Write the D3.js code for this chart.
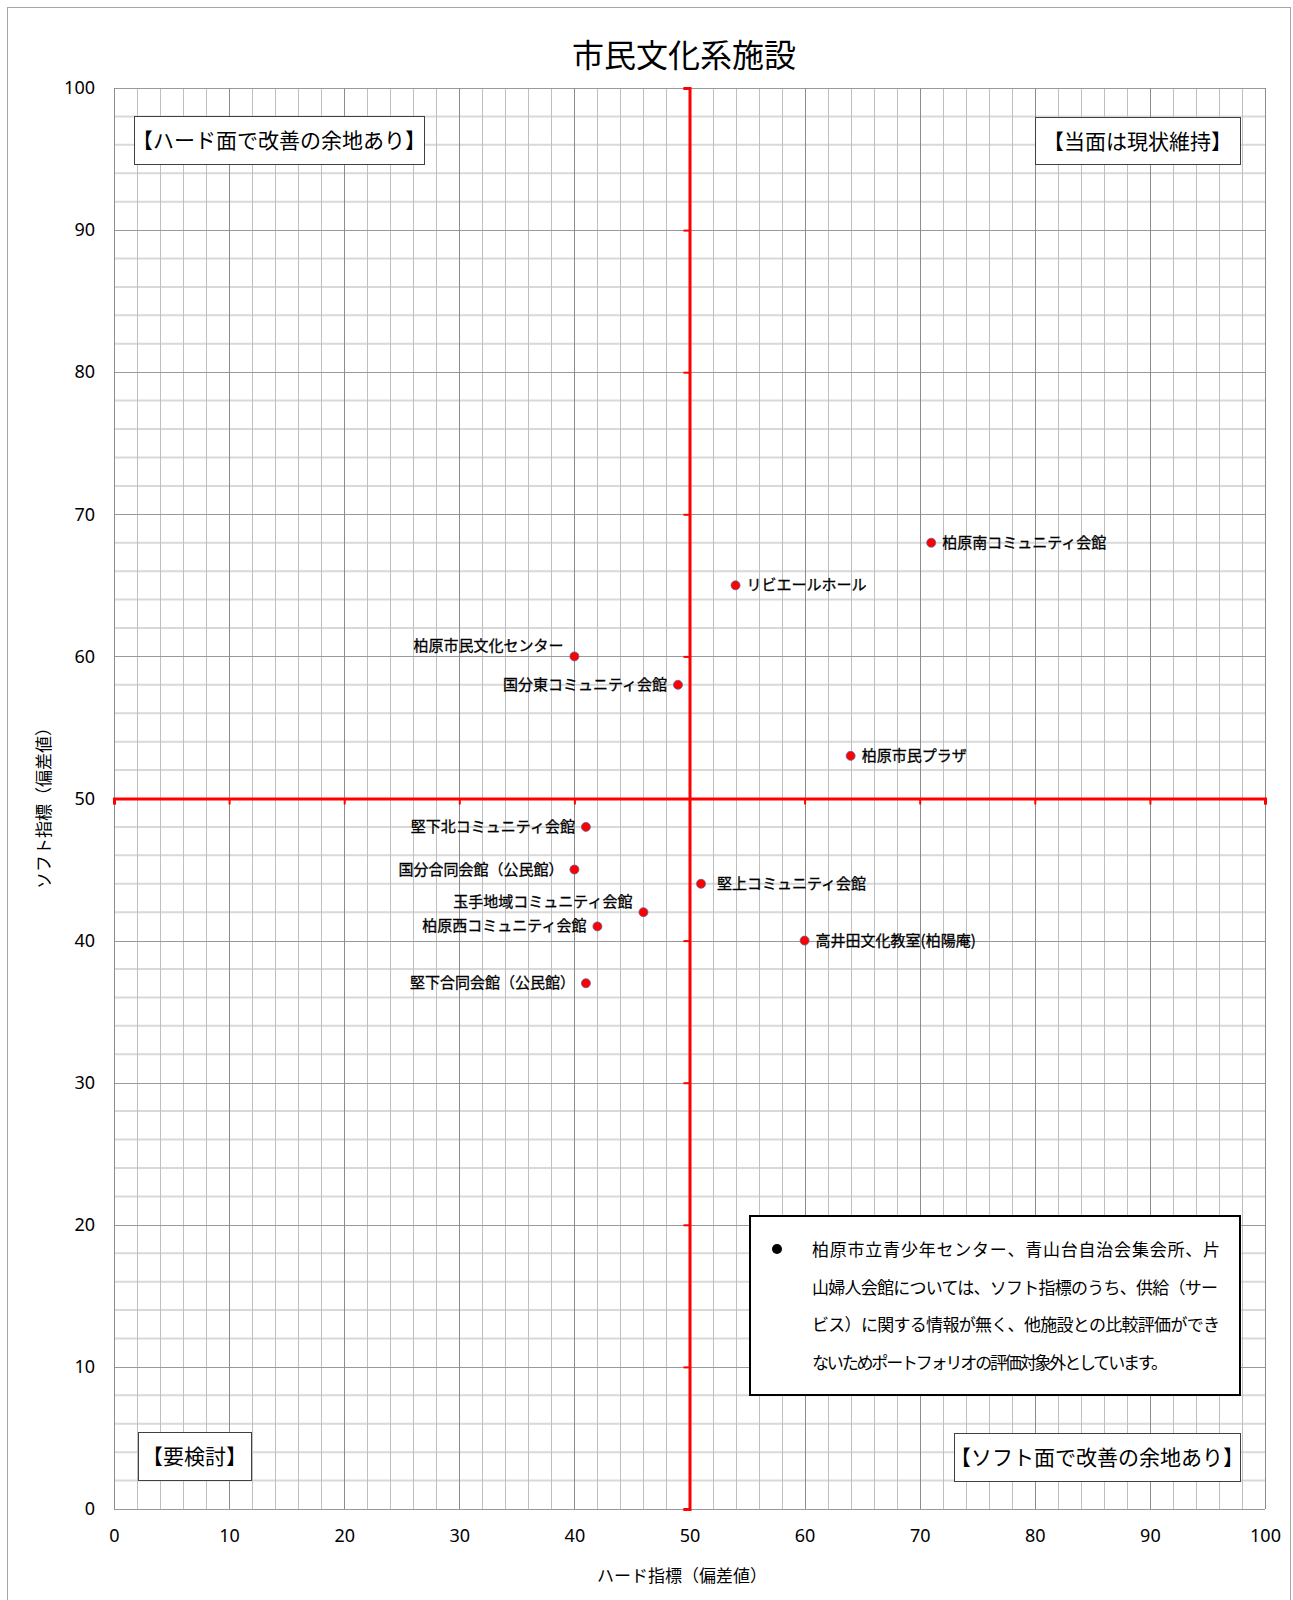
<!DOCTYPE html>
<html>
<head>
<meta charset="utf-8">
<script src="https://cdn.jsdelivr.net/npm/d3@7"></script>
<style>
  body { margin: 0; background: #fff; }
  text { font-family: "Noto Sans CJK JP", "Noto Sans", sans-serif; fill: #000; }
  .tick-label text { font-family: "Noto Sans", "Noto Sans CJK JP", sans-serif; }
</style>
</head>
<body>
<div id="chart"></div>
<script>
// Facilities (hard index, soft index)
const names = [
  "柏原南コミュニティ会館", "リビエールホール", "柏原市民文化センター", "国分東コミュニティ会館",
  "柏原市民プラザ", "堅下北コミュニティ会館", "国分合同会館（公民館）", "堅上コミュニティ会館",
  "玉手地域コミュニティ会館", "柏原西コミュニティ会館", "高井田文化教室(柏陽庵)", "堅下合同会館（公民館）"
];
const hardValues = [71, 54, 40, 49, 64, 41, 40, 51, 46, 42, 60, 41];
const softValues = [68, 65, 60, 58, 53, 48, 45, 44, 42, 41, 40, 37];
// label side: "r" right of point, "l" left, "lu" left and a bit above
const labelSide = ["r", "r", "lu", "l", "r", "l", "l", "r", "lu", "l", "r", "l"];

const xTicks = [0, 10, 20, 30, 40, 50, 60, 70, 80, 90, 100];
const yTicks = [0, 10, 20, 30, 40, 50, 60, 70, 80, 90, 100];

const quadrantLabels = ["【ハード面で改善の余地あり】", "【当面は現状維持】", "【要検討】", "【ソフト面で改善の余地あり】"];
const noteLines = [
  "柏原市立青少年センター、青山台自治会集会所、片",
  "山婦人会館については、ソフト指標のうち、供給（サー",
  "ビス）に関する情報が無く、他施設との比較評価ができ",
  "ないためポートフォリオの評価対象外としています。"
];

const W = 1293, H = 1600;
const plot = { left: 114, top: 88, right: 1265, bottom: 1509 };

const svg = d3.select("#chart").append("svg")
  .attr("width", W).attr("height", H);

// outer chart frame
svg.append("rect")
  .attr("x", 7.5).attr("y", 7.5)
  .attr("width", 1283).attr("height", 1610)
  .attr("fill", "#fff").attr("stroke", "#a6a6a6");

const x = d3.scaleLinear().domain([0, 100]).range([plot.left, plot.right]);
const y = d3.scaleLinear().domain([0, 100]).range([plot.bottom, plot.top]);

// title
svg.append("text")
  .attr("x", 684).attr("y", 67)
  .attr("text-anchor", "middle")
  .style("font-size", "32px")
  .text("市民文化系施設");

// grid
const grid = svg.append("g");
const minor = x.ticks(50);
grid.selectAll(".hminor").data(minor.filter(d => d % 10 !== 0)).enter().append("line")
  .attr("x1", plot.left).attr("x2", plot.right)
  .attr("y1", d => y(d)).attr("y2", d => y(d))
  .attr("stroke", "#d9d9d9").attr("stroke-width", 2);
grid.selectAll(".vminor").data(minor.filter(d => d % 10 !== 0)).enter().append("line")
  .attr("y1", plot.top).attr("y2", plot.bottom)
  .attr("x1", d => Math.round(x(d)) + 0.5).attr("x2", d => Math.round(x(d)) + 0.5)
  .attr("stroke", "#bfbfbf").attr("stroke-width", 1);
grid.selectAll(".hmajor").data(yTicks).enter().append("line")
  .attr("x1", plot.left).attr("x2", plot.right)
  .attr("y1", d => Math.round(y(d)) + 0.5).attr("y2", d => Math.round(y(d)) + 0.5)
  .attr("stroke", "#999").attr("stroke-width", 1);
grid.selectAll(".vmajor").data(xTicks).enter().append("line")
  .attr("y1", plot.top).attr("y2", plot.bottom)
  .attr("x1", d => Math.round(x(d)) + 0.5).attr("x2", d => Math.round(x(d)) + 0.5)
  .attr("stroke", "#8c8c8c").attr("stroke-width", 1);

// tick labels
const xAxis = svg.append("g").attr("class", "tick-label")
  .attr("transform", `translate(0,${plot.bottom})`)
  .call(d3.axisBottom(x).tickValues(xTicks).tickSize(0).tickPadding(20));
const yAxis = svg.append("g").attr("class", "tick-label")
  .attr("transform", `translate(${plot.left},0)`)
  .call(d3.axisLeft(y).tickValues(yTicks).tickSize(0).tickPadding(19));
[xAxis, yAxis].forEach(a => {
  a.select(".domain").remove();
  a.selectAll("text").style("font-size", "18px").attr("fill", "#000");
});

// red axes crossing at 50
const redX = svg.append("g")
  .attr("transform", `translate(0,${y(50)})`)
  .call(d3.axisBottom(x).tickValues(xTicks).tickSize(6).tickFormat(""));
const redY = svg.append("g")
  .attr("transform", `translate(${x(50)},0)`)
  .call(d3.axisLeft(y).tickValues(yTicks).tickSize(6).tickFormat(""));
[redX, redY].forEach(a => {
  a.select(".domain").attr("stroke", "#ff0000").attr("stroke-width", 3);
  a.selectAll(".tick line").attr("stroke", "#ff0000").attr("stroke-width", 2);
});

// axis titles
svg.append("text")
  .attr("x", 682).attr("y", 1582)
  .attr("text-anchor", "middle")
  .style("font-size", "17px")
  .text("ハード指標（偏差値）");
svg.append("text")
  .attr("transform", "translate(50,804) rotate(-90)")
  .attr("text-anchor", "middle")
  .style("font-size", "17px")
  .text("ソフト指標（偏差値）");

// quadrant boxes
const boxes = [
  { x0: 134, x1: 424, y0: 116, y1: 164 },
  { x0: 1035, x1: 1240, y0: 117, y1: 164 },
  { x0: 138, x1: 251, y0: 1432, y1: 1480 },
  { x0: 954, x1: 1240, y0: 1433, y1: 1481 }
];
boxes.forEach((b, i) => {
  svg.append("rect")
    .attr("x", b.x0 + 0.5).attr("y", b.y0 + 0.5)
    .attr("width", b.x1 - b.x0).attr("height", b.y1 - b.y0)
    .attr("fill", "#fff").attr("stroke", "#404040");
  svg.append("text")
    .attr("x", (b.x0 + b.x1) / 2).attr("y", (b.y0 + b.y1) / 2 + 8)
    .attr("text-anchor", "middle")
    .style("font-size", "21px")
    .text(quadrantLabels[i]);
});

// note box
svg.append("rect")
  .attr("x", 750).attr("y", 1216)
  .attr("width", 490).attr("height", 179)
  .attr("fill", "#fff").attr("stroke", "#000").attr("stroke-width", 2);
svg.append("circle").attr("cx", 777).attr("cy", 1249).attr("r", 5).attr("fill", "#000");
const noteLen = [408, 406, 408, 356];
svg.selectAll(".note").data(noteLines).enter().append("text")
  .attr("x", 812).attr("y", (d, i) => 1256 + i * 37.5)
  .attr("textLength", (d, i) => noteLen[i])
  .style("font-size", "17px")
  .text(d => d);

// points
const pts = names.map((n, i) => ({ name: n, hard: hardValues[i], soft: softValues[i], side: labelSide[i] }));
svg.selectAll(".pt").data(pts).enter().append("circle")
  .attr("cx", d => x(d.hard)).attr("cy", d => y(d.soft))
  .attr("r", 4.5)
  .attr("fill", "#ff0000").attr("stroke", "#6060a0").attr("stroke-width", 0.8);

svg.selectAll(".lbl").data(pts).enter().append("text")
  .attr("x", d => d.side === "r" ? x(d.hard) + (d.name.startsWith("堅上") ? 16 : 11) : x(d.hard) - 11)
  .attr("y", d => y(d.soft) + (d.side === "lu" ? -10 : 0) + 5)
  .attr("text-anchor", d => d.side === "r" ? "start" : "end")
  .style("font-size", "15px")
  .attr("stroke", "#000").attr("stroke-width", 0.3)
  .text(d => d.name);
</script>
</body>
</html>
